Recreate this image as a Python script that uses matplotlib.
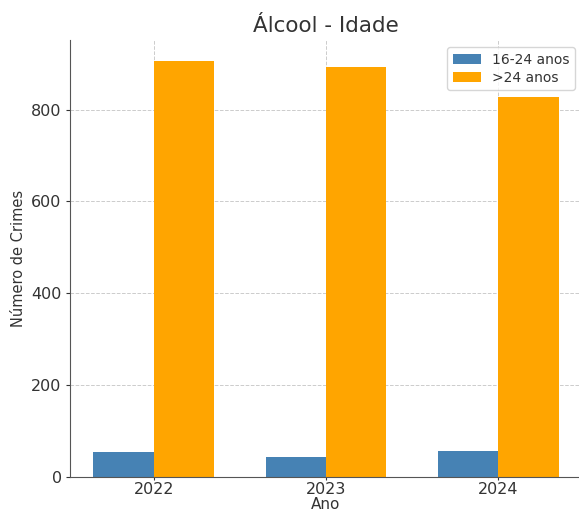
import matplotlib
matplotlib.use("Agg")
import matplotlib.pyplot as plt
import numpy as np

anos = ["2022", "2023", "2024"]
jovens = [54, 44, 57]       # 16-24 anos
adultos = [906, 893, 828]   # >24 anos

x = np.arange(len(anos))
w = 0.35

plt.rcParams['text.color'] = '#333333'
plt.rcParams['axes.labelcolor'] = '#333333'
plt.rcParams['xtick.color'] = '#333333'
plt.rcParams['ytick.color'] = '#333333'

fig = plt.figure(figsize=(5.79, 5.13), dpi=100)
ax = fig.add_axes([0.121, 0.070, 0.884, 0.852])

ax.bar(x - w / 2, jovens, w, color='steelblue', label='16-24 anos', zorder=2)
ax.bar(x + w / 2, adultos, w, color='orange', label='>24 anos', zorder=2)

ax.set_xticks(x)
ax.set_xticklabels(anos, fontsize=11.5)
ax.tick_params(axis='x', length=2, pad=1.5)
ax.tick_params(axis='y', labelsize=11.5, length=3, pad=3)
ax.set_xlabel('Ano', fontsize=11, labelpad=0)
ax.set_ylabel('Número de Crimes', fontsize=10.5, labelpad=4)
ax.set_title('Álcool - Idade', fontsize=15.5, pad=6)

ax.grid(True, linestyle='--', color='#cccccc', linewidth=0.7, zorder=0)
ax.set_axisbelow(True)
for s in ['top', 'right']:
    ax.spines[s].set_visible(False)
for s in ['left', 'bottom']:
    ax.spines[s].set_color('#555555')

ax.legend(loc='upper right', fontsize=10, labelspacing=0.3,
          borderaxespad=0.5)

fig.savefig('out.png', dpi=100)
